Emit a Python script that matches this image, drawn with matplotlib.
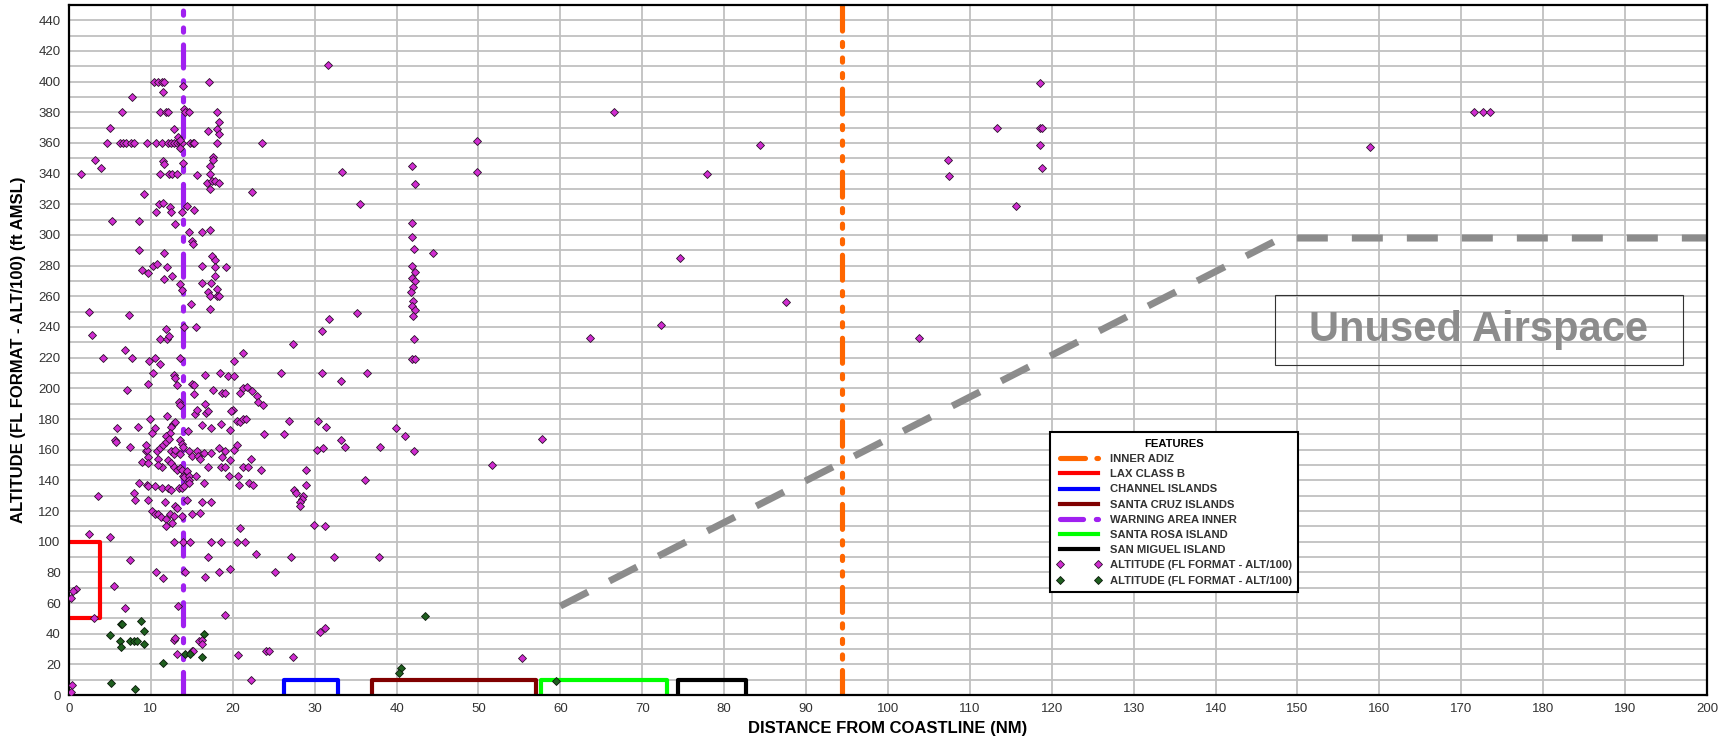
import matplotlib
matplotlib.use('Agg')
import matplotlib.pyplot as plt
from matplotlib.patches import Rectangle

plt.rcParams['font.family'] = ['Liberation Sans', 'DejaVu Sans']
plt.rcParams['lines.scale_dashes'] = False

# boundaries (NM from coastline, FL)
adiz_x = 94.4
warning_x = 13.9
top_alt = 450
lax_x = [0, 3.8, 3.8, 0]
lax_y = [100, 100, 50, 50]
island_y = [0, 10, 10, 0]
channel_x = [26.2, 26.2, 32.9, 32.9]
santa_cruz_x = [37.0, 37.0, 57.0, 57.0]
santa_rosa_x = [57.6, 57.6, 73.0, 73.0]
san_miguel_x = [74.4, 74.4, 82.7, 82.7]
unused_x = [60, 148, 200]
unused_y = [58, 298, 298]
unused_box = [147.2, 215, 197.1, 260.7]

# altitude reports, magenta series
alt_pts = [
    (10.4, 400), (10.9, 400), (11.3, 400), (11.6, 400), (13.9, 397), (17.1, 400), (7.7, 390), (11.5, 393),
    (6.5, 380), (11.1, 380), (11.9, 380), (12.1, 380), (14.0, 382), (14.2, 380), (14.6, 380), (18.1, 380), (18.3, 374),
    (5.0, 370), (12.8, 369), (17.0, 368), (18.1, 369), (18.3, 366), (13.3, 364),
    (4.7, 360), (6.2, 360), (6.6, 360), (7.0, 360), (7.6, 360), (7.9, 360), (9.5, 360), (10.6, 360), (11.3, 360),
    (12.1, 360), (12.4, 360), (12.8, 360), (13.2, 360), (13.5, 360), (13.8, 360), (14.8, 360), (15.1, 360),
    (15.3, 360), (18.1, 360), (23.6, 360),
    (13.6, 362), (13.6, 357),
    (3.2, 349), (3.9, 344), (1.5, 340), (11.1, 340), (12.2, 340), (12.6, 340), (13.2, 340), (11.5, 348), (11.6, 346), (13.9, 347),
    (17.6, 351), (17.2, 345), (17.6, 349), (15.6, 339), (17.2, 340), (16.9, 334), (17.5, 335), (17.8, 335), (18.3, 334), (17.2, 330),
    (9.1, 327), (22.4, 328),
    (11.0, 320), (11.5, 321), (10.6, 315), (12.3, 318), (12.5, 315), (13.8, 315), (14.4, 319), (15.3, 316),
    (5.3, 309), (8.5, 309), (12.9, 307), (14.6, 302), (16.3, 302), (17.2, 303), (15.0, 296), (15.2, 294),
    (8.5, 290), (11.6, 288), (10.2, 280), (10.7, 281), (12.0, 279), (8.9, 277), (9.7, 275), (11.6, 271), (12.6, 273), (13.6, 268),
    (16.3, 280), (17.5, 286), (17.8, 284), (17.8, 279), (19.2, 279), (16.3, 269), (17.4, 269), (17.8, 273),
    (17.0, 263), (17.2, 260), (18.1, 265), (18.1, 260), (18.3, 260), (13.8, 264), (14.9, 255), (17.2, 252),
    (2.5, 250), (7.3, 248), (2.8, 235), (14.0, 240), (15.5, 240), (11.9, 239), (11.1, 232), (12.0, 232), (12.2, 234),
    (4.2, 220), (6.8, 225), (7.7, 220), (9.8, 218), (10.5, 220), (11.1, 216), (13.6, 220), (20.1, 218), (21.2, 223), (27.3, 229),
    (10.2, 210), (12.8, 209), (13.0, 207), (16.6, 209), (18.5, 210), (19.4, 208), (20.1, 208), (25.9, 210), (9.6, 203), (13.2, 202),
    (7.1, 199), (15.0, 203), (15.3, 202), (15.3, 196), (17.6, 199), (18.7, 197), (19.0, 197),
    (20.9, 197), (21.2, 200), (21.7, 201), (22.3, 198), (22.9, 195), (23.1, 191), (23.7, 189),
    (13.4, 191), (13.6, 189),
    (5.9, 174), (8.4, 175), (9.9, 180), (10.5, 174), (10.1, 171),
    (12.0, 182), (12.7, 177), (12.9, 178), (12.5, 175), (12.3, 171), (11.9, 169),
    (14.5, 172), (15.4, 183), (15.6, 186), (16.3, 176), (16.7, 184), (17.0, 185), (16.6, 190),
    (17.4, 174), (18.6, 177), (19.7, 173), (20.0, 186), (19.8, 185),
    (20.5, 179), (20.9, 178), (21.3, 180), (21.6, 180),
    (23.8, 170), (26.2, 170), (26.9, 179),
    (5.6, 166), (5.8, 165), (7.5, 162), (8.9, 152),
    (9.4, 159), (9.5, 160), (9.4, 163), (9.7, 155), (9.6, 151),
    (10.7, 159), (11.1, 161), (11.5, 163), (10.9, 154), (11.3, 149), (10.9, 150),
    (11.9, 165), (12.2, 167), (12.5, 159), (12.8, 157), (13.0, 160),
    (12.1, 153), (12.5, 151), (12.8, 149), (13.2, 147), (13.5, 148),
    (13.6, 166), (13.8, 164), (13.9, 162), (13.6, 157),
    (13.8, 147), (13.9, 143), (14.1, 142), (14.4, 146), (14.6, 143), (14.7, 140),
    (14.6, 159), (15.0, 156), (15.6, 159), (15.8, 156), (16.0, 154), (16.5, 158),
    (15.5, 143), (17.0, 149),
    (17.4, 158), (18.3, 161), (18.7, 155), (19.0, 159),
    (18.6, 149), (19.0, 149), (19.5, 143), (19.6, 153),
    (20.2, 160), (20.5, 163),
    (20.6, 143), (21.2, 149), (21.9, 149), (22.2, 154), (23.4, 147),
    (8.6, 138), (9.5, 137), (9.7, 136), (10.5, 136),
    (11.3, 135), (12.1, 135), (12.5, 134), (13.4, 135), (13.8, 135), (14.0, 136),
    (14.6, 138), (16.5, 138), (20.8, 137), (22.0, 138), (22.5, 137),
    (7.9, 132), (3.5, 130),
    (8.1, 127), (9.7, 127), (11.7, 126), (14.4, 127), (16.2, 126), (17.3, 126),
    (10.1, 120), (10.5, 118), (10.9, 118), (11.2, 116), (11.9, 115), (12.3, 118), (12.8, 117),
    (13.0, 123), (13.2, 122), (13.8, 117), (15.0, 118), (16.0, 119),
    (11.8, 110), (12.6, 112), (20.9, 109),
    (12.8, 100), (13.9, 100), (14.8, 100), (17.3, 100), (18.6, 100), (20.5, 100), (21.5, 100),
    (2.4, 105), (5.0, 103),
    (22.8, 92), (17.0, 90), (27.1, 90), (7.5, 88),
    (10.6, 80), (14.2, 80), (18.3, 80), (19.6, 82), (25.2, 80), (11.5, 76), (16.6, 77),
    (0.8, 69), (0.5, 68), (0.2, 63), (5.5, 71),
    (6.9, 57), (13.3, 58), (3.1, 50), (19.1, 52),
    (12.8, 36), (13.0, 37), (15.9, 35), (16.3, 36), (16.2, 33),
    (13.2, 26.5), (15.0, 29), (15.2, 29), (20.6, 26), (24.0, 29), (24.4, 29), (27.4, 25),
    (22.2, 10), (0.4, 6.5), (0.2, 2),
    (31.6, 411), (49.8, 361), (49.8, 341), (33.3, 341), (41.9, 345), (42.2, 333), (35.5, 320),
    (41.9, 308), (41.9, 299), (42.1, 291), (44.5, 288),
    (41.9, 280), (42.2, 276), (41.9, 272), (42.2, 270), (42.0, 266), (41.8, 263), (42.0, 257), (41.9, 254), (42.2, 251), (42.0, 247),
    (42.1, 232), (41.9, 219), (42.2, 219),
    (35.2, 249), (31.8, 245.5), (30.9, 237.5),
    (30.9, 210), (33.2, 205), (36.4, 210),
    (30.4, 179), (31.4, 175), (33.2, 166), (33.7, 162), (30.3, 160), (31.0, 161), (38.0, 162), (39.9, 174), (41.0, 169), (42.1, 159),
    (57.8, 167), (51.6, 150),
    (29.0, 147), (29.0, 137),
    (27.5, 134), (27.7, 132), (28.6, 130), (28.4, 128), (28.2, 126), (28.2, 123),
    (36.1, 140),
    (29.9, 111), (31.2, 110),
    (32.4, 90), (37.8, 90),
    (30.6, 41), (31.2, 44), (55.3, 24.4),
    (66.6, 380), (84.4, 359), (77.9, 340), (74.6, 285), (72.3, 241), (63.6, 233), (87.5, 256), (103.8, 233),
    (107.3, 349), (107.4, 338.5), (113.3, 370), (115.6, 319), (118.5, 399), (118.6, 370), (118.8, 370), (118.6, 359), (118.8, 344),
    (158.9, 357.5), (171.6, 380), (172.6, 380), (173.5, 380),
]
alt_x = [p[0] for p in alt_pts]
alt_y = [p[1] for p in alt_pts]

# altitude reports, dark green series
low_x = [5.0, 6.4, 6.5, 6.2, 6.4, 7.4, 7.9, 8.3, 8.8, 9.2, 9.1, 5.1, 8.1, 11.5, 14.2, 14.8, 16.3, 16.5, 43.5, 40.5, 40.3, 59.5]
low_y = [39, 46, 46, 35, 31, 35, 35, 35, 48, 42, 33, 8, 4, 21, 26.5, 26.5, 25, 40, 51.6, 17.6, 14.5, 9]

fig = plt.figure(figsize=(17.33, 7.42), dpi=100)
ax = fig.add_axes([0.0398, 0.0633, 0.9452, 0.930])

adiz_dash = (18, 8.2, 3.0, 8.2, 3.0, 8.2, 3.0, 8.2)
warn_dash = (16.6, 9.2, 3.0, 9.2, 3.0, 9.2)

h_adiz, = ax.plot([adiz_x, adiz_x], [0, top_alt], color='#ff6600', lw=3.7,
                  dashes=adiz_dash, dash_capstyle='round', label='INNER ADIZ')
h_lax, = ax.plot(lax_x, lax_y, color='#ff0000', lw=3.0, label='LAX CLASS B')
h_chan, = ax.plot(channel_x, island_y, color='#0000ff', lw=3.0, label='CHANNEL ISLANDS')
h_cruz, = ax.plot(santa_cruz_x, island_y, color='#800000', lw=3.0, label='SANTA CRUZ ISLANDS')
h_warn, = ax.plot([warning_x, warning_x], [0, top_alt], color='#a020f0', lw=3.7,
                  dashes=warn_dash, dash_capstyle='round', label='WARNING AREA INNER')
h_rosa, = ax.plot(santa_rosa_x, island_y, color='#00ff00', lw=3.0, label='SANTA ROSA ISLAND')
h_migu, = ax.plot(san_miguel_x, island_y, color='#000000', lw=3.0, label='SAN MIGUEL ISLAND')

ax.plot(unused_x, unused_y, color='#8c8c8c', lw=5, dashes=(22.3, 17.3), dash_capstyle='butt')
x0, y0, x1, y1 = unused_box
ax.add_patch(Rectangle((x0, y0), x1 - x0, y1 - y0, fill=False, ec='#333333', lw=0.8))
ax.text((x0 + x1) / 2, (y0 + y1) / 2, 'Unused Airspace', ha='center', va='center',
        fontsize=30, fontweight='bold', color='#8c8c8c')

h_alt, = ax.plot(alt_x, alt_y, ls='none', marker='D', ms=3.9, mfc='#d02cd0', mec='#2a102a',
                 mew=0.6, label='ALTITUDE (FL FORMAT - ALT/100)', zorder=5)
h_low, = ax.plot(low_x, low_y, ls='none', marker='D', ms=3.9, mfc='#1f5f1f', mec='#0a1a0a',
                 mew=0.6, label='ALTITUDE (FL FORMAT - ALT/100)', zorder=5)

ax.set_xlim(0, 200)
ax.set_ylim(0, 450)
ax.set_xticks(range(0, 201, 10))
ax.set_yticks(range(0, 441, 20))
ax.set_yticks(range(0, 451, 10), minor=True)
ax.grid(which='both', color='#c0c0c0', lw=1.3)
ax.set_axisbelow(True)
ax.tick_params(which='both', length=0, labelsize=9.5, labelcolor='#333333', pad=6)
for s in ax.spines.values():
    s.set_linewidth(1.6)
    s.set_color('black')

ax.set_xlabel('DISTANCE FROM COASTLINE (NM)', fontsize=12, fontweight='bold', labelpad=4)
ax.set_ylabel('ALTITUDE (FL FORMAT - ALT/100) (ft AMSL)', fontsize=12, fontweight='bold', labelpad=9)

leg = ax.legend(handles=[h_adiz, h_lax, h_chan, h_cruz, h_warn, h_rosa, h_migu, h_alt, h_low],
                title='FEATURES', loc='upper left', bbox_to_anchor=(0.5955, 0.389),
                numpoints=2, handlelength=4.0, handletextpad=0.7,
                labelspacing=0.46, borderpad=0.6, fancybox=False, framealpha=1,
                edgecolor='black', prop={'weight': 'bold', 'size': 8.1})
leg.get_title().set_fontweight('bold')
leg.get_title().set_fontsize(8.1)
leg.get_frame().set_linewidth(1.5)
for t in leg.get_texts():
    t.set_color('#333333')

plt.savefig('out.png', dpi=100)
